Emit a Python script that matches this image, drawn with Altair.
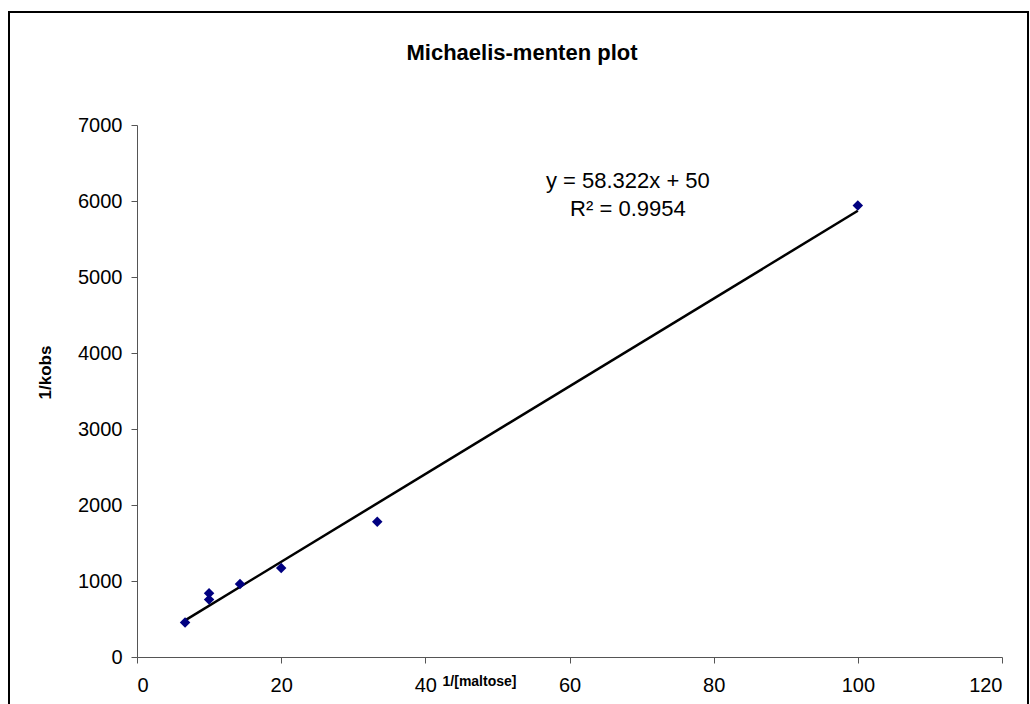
import altair as alt
import pandas as pd

# Data
inv_maltose = [6.67, 10.0, 10.0, 14.29, 20.0, 33.33, 100.0]
inv_kobs = [455, 755, 840, 960, 1170, 1780, 5940]

eq_lines = ["y = 58.322x + 50", "R² = 0.9954"]
eq_x = [68.1, 68.1]
eq_y = [6260, 5900]

x_ticks = [0, 20, 40, 60, 80, 100, 120]
y_ticks = [0, 1000, 2000, 3000, 4000, 5000, 6000, 7000]

title_text = ["Michaelis-menten plot"]

df = pd.DataFrame({"x": inv_maltose, "y": inv_kobs})
eq_df = pd.DataFrame({"x": eq_x, "y": eq_y, "t": eq_lines})
title_df = pd.DataFrame({"t": title_text})

FONT = "Liberation Sans"
W, H = 865, 532

xscale = alt.Scale(domain=[0, 120], nice=False, zero=True)
yscale = alt.Scale(domain=[0, 7000], nice=False)

xaxis = alt.Axis(
    values=x_ticks, format="d", title="1/[maltose]", grid=False,
    labelFont=FONT, labelFontSize=20, labelColor="black", labelPadding=12,
    tickSize=6, tickColor="#555", domainColor="#555",
    titleFont=FONT, titleFontSize=14, titleFontWeight="bold", titleColor="black",
    titleX=342, titleY=24, titleBaseline="middle", titleAlign="center",
)
yaxis = alt.Axis(
    values=y_ticks, format="d", title="1/kobs", grid=False,
    labelFont=FONT, labelFontSize=20, labelColor="black", labelPadding=9,
    tickSize=6, tickColor="#555", domainColor="#555",
    titleFont=FONT, titleFontSize=17, titleFontWeight="bold", titleColor="black",
    titleX=-92, titleY=247, titleBaseline="middle", titleAlign="center",
)

points = alt.Chart(df).mark_point(
    shape="diamond", filled=True, color="#000080", size=110, opacity=1
).encode(
    x=alt.X("x:Q", scale=xscale, axis=xaxis),
    y=alt.Y("y:Q", scale=yscale, axis=yaxis),
)

trend = alt.Chart(df).transform_regression(
    "x", "y", extent=[min(inv_maltose), max(inv_maltose)]
).mark_line(color="black", strokeWidth=2.5).encode(
    x=alt.X("x:Q", scale=xscale), y=alt.Y("y:Q", scale=yscale)
)

eq = alt.Chart(eq_df).mark_text(
    font=FONT, fontSize=22, color="black", align="center", baseline="middle"
).encode(x=alt.X("x:Q", scale=xscale), y=alt.Y("y:Q", scale=yscale), text="t:N")

title = alt.Chart(title_df).mark_text(
    font=FONT, fontSize=22, fontWeight="bold", color="black", align="center", baseline="middle"
).encode(x=alt.value(385), y=alt.value(-72), text="t:N")

border = alt.Chart(df).mark_rect(fill=None, stroke="black", strokeWidth=1.5).encode(
    x=alt.value(-128), x2=alt.value(W + 26), y=alt.value(-113), y2=alt.value(H + 60)
)

chart = alt.layer(border, trend, points, eq, title).properties(
    width=W, height=H,
    autosize=alt.AutoSizeParams(type="none"),
    padding={"left": 137, "top": 125, "right": 28, "bottom": 47},
    background="white",
).configure_view(stroke=None)

chart.save("out.html", embed_options={"renderer": "svg", "actions": False})
